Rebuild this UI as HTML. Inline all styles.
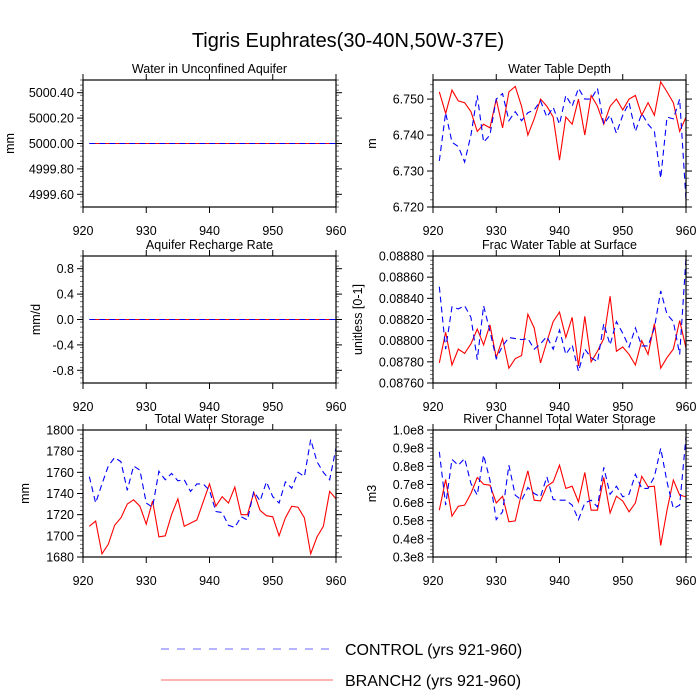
<!DOCTYPE html>
<html><head><meta charset="utf-8"><style>
html,body{margin:0;padding:0;background:#fff;}
svg{display:block;font-family:"Liberation Sans",sans-serif;}
</style></head><body>
<svg id="c" width="700" height="700" xmlns="http://www.w3.org/2000/svg">
<text x="348" y="47" text-anchor="middle" font-size="20">Tigris Euphrates(30-40N,50W-37E)</text>
<g>
<line x1="161" y1="649" x2="333" y2="649" stroke="#6a6aff" stroke-width="1" stroke-dasharray="8,8"/>
<text x="345" y="655" font-size="16">CONTROL (yrs 921-960)</text>
<line x1="161" y1="680" x2="333" y2="680" stroke="#ff6a6a" stroke-width="1"/>
<text x="345" y="686" font-size="16">BRANCH2 (yrs 921-960)</text>
</g>
</svg>
<script>
const years = [];
for (let y = 921; y <= 960; y++) years.push(y);
const xTicks = [920,930,940,950,960];

const aquiferCtrl = [5000,5000,5000,5000,5000,5000,5000,5000,5000,5000,5000,5000,5000,5000,5000,5000,5000,5000,5000,5000,5000,5000,5000,5000,5000,5000,5000,5000,5000,5000,5000,5000,5000,5000,5000,5000,5000,5000,5000,5000];
const aquiferBr = [5000,5000,5000,5000,5000,5000,5000,5000,5000,5000,5000,5000,5000,5000,5000,5000,5000,5000,5000,5000,5000,5000,5000,5000,5000,5000,5000,5000,5000,5000,5000,5000,5000,5000,5000,5000,5000,5000,5000,5000];
const rechargeCtrl = [0,0,0,0,0,0,0,0,0,0,0,0,0,0,0,0,0,0,0,0,0,0,0,0,0,0,0,0,0,0,0,0,0,0,0,0,0,0,0,0];
const rechargeBr = [0,0,0,0,0,0,0,0,0,0,0,0,0,0,0,0,0,0,0,0,0,0,0,0,0,0,0,0,0,0,0,0,0,0,0,0,0,0,0,0];
const wtdBr = [6.752,6.746,6.7525,6.7495,6.749,6.7465,6.741,6.743,6.742,6.750,6.742,6.752,6.7535,6.748,6.740,6.7445,6.750,6.748,6.745,6.733,6.745,6.743,6.750,6.740,6.751,6.748,6.743,6.748,6.750,6.747,6.750,6.751,6.7455,6.749,6.7455,6.7548,6.752,6.749,6.741,6.745];
const wtdCtrl = [6.7328,6.7462,6.738,6.7368,6.7325,6.740,6.751,6.738,6.740,6.750,6.7515,6.744,6.7465,6.744,6.7462,6.747,6.7495,6.745,6.7477,6.743,6.751,6.748,6.753,6.750,6.750,6.753,6.743,6.7455,6.7405,6.7455,6.749,6.741,6.746,6.743,6.741,6.728,6.745,6.7445,6.750,6.722];
const fracBr = [0.08779,0.08808,0.08777,0.08792,0.08788,0.08797,0.08811,0.08796,0.08815,0.08784,0.08802,0.08774,0.08783,0.08786,0.08825,0.08812,0.08779,0.08799,0.08818,0.08827,0.08803,0.08822,0.08776,0.08823,0.08780,0.08790,0.08802,0.08842,0.08790,0.08794,0.08787,0.08777,0.08800,0.08787,0.08816,0.08774,0.08784,0.08792,0.08819,0.08793];
const fracCtrl = [0.08851,0.08792,0.08832,0.08830,0.08833,0.08822,0.08782,0.08833,0.08809,0.08783,0.08795,0.08803,0.08802,0.08801,0.08802,0.08792,0.08797,0.08804,0.08792,0.08810,0.08787,0.08796,0.08771,0.08792,0.08784,0.08780,0.08816,0.08796,0.08818,0.08807,0.08794,0.08812,0.08795,0.08795,0.08812,0.08847,0.08825,0.08818,0.08787,0.08878];
const twsBr = [1709,1714,1683,1692,1710,1717,1730,1734,1728,1711,1733,1699,1700,1720,1735,1709,1712,1715,1732,1749,1728,1737,1731,1746,1720,1720,1741,1724,1719,1718,1700,1717,1728,1727,1717,1683,1699,1709,1742,1735];
const twsCtrl = [1756,1731,1749,1766,1774,1770,1743,1766,1762,1731,1727,1761,1753,1759,1752,1753,1742,1749,1749,1743,1723,1722,1710,1708,1718,1715,1742,1733,1751,1737,1731,1751,1745,1760,1756,1791,1770,1760,1753,1783];
const riverBr = [0.558,0.727,0.525,0.580,0.586,0.650,0.738,0.701,0.696,0.598,0.635,0.494,0.499,0.650,0.775,0.613,0.609,0.690,0.714,0.806,0.678,0.690,0.604,0.766,0.558,0.558,0.738,0.543,0.635,0.609,0.549,0.598,0.745,0.687,0.690,0.364,0.558,0.724,0.641,0.632];
const riverCtrl = [0.880,0.586,0.838,0.806,0.843,0.705,0.641,0.862,0.724,0.506,0.549,0.806,0.641,0.613,0.683,0.650,0.632,0.742,0.617,0.613,0.613,0.586,0.506,0.598,0.613,0.576,0.794,0.646,0.690,0.632,0.646,0.756,0.678,0.678,0.742,0.899,0.714,0.567,0.586,0.963];

const aquiferTicks = ["4999.60","4999.80","5000.00","5000.20","5000.40"];
const rechargeTicks = ["-0.8","-0.4","0.0","0.4","0.8"];
const wtdTicks = ["6.720","6.730","6.740","6.750"];
const fracTicks = ["0.08760","0.08780","0.08800","0.08820","0.08840","0.08860","0.08880"];
const twsTicks = ["1680","1700","1720","1740","1760","1780","1800"];
const riverTicks = ["0.3e8","0.4e8","0.5e8","0.6e8","0.7e8","0.8e8","0.9e8","1.0e8"];

const NS = "http://www.w3.org/2000/svg";
const svg = document.getElementById('c');
function mk(tag, attrs, parent) {
  const e = document.createElementNS(NS, tag);
  for (const k in attrs) e.setAttribute(k, attrs[k]);
  parent.appendChild(e);
  return e;
}
const panels = [
  {name:'water-in-unconfined-aquifer', title:'Water in Unconfined Aquifer', x:83, y:80, ymin:4999.5, ymax:5000.5, ticks:aquiferTicks, tickVals:[4999.6,4999.8,5000,5000.2,5000.4], minor:0.04, ytitle:'mm', ytx:10, ctrl:aquiferCtrl, br:aquiferBr},
  {name:'water-table-depth', title:'Water Table Depth', x:433, y:80, ymin:6.720, ymax:6.7553, ticks:wtdTicks, tickVals:[6.72,6.73,6.74,6.75], minor:0.002, ytitle:'m', ytx:372, ctrl:wtdCtrl, br:wtdBr},
  {name:'aquifer-recharge-rate', title:'Aquifer Recharge Rate', x:83, y:256, ymin:-1, ymax:1, ticks:rechargeTicks, tickVals:[-0.8,-0.4,0,0.4,0.8], minor:0.08, ytitle:'mm/d', ytx:36, ctrl:rechargeCtrl, br:rechargeBr},
  {name:'frac-water-table-at-surface', title:'Frac Water Table at Surface', x:433, y:256, ymin:0.0876, ymax:0.0888, ticks:fracTicks, tickVals:[0.0876,0.0878,0.088,0.0882,0.0884,0.0886,0.0888], minor:0.00004, ytitle:'unitless [0-1]', ytx:358, ctrl:fracCtrl, br:fracBr},
  {name:'total-water-storage', title:'Total Water Storage', x:83, y:430, ymin:1680, ymax:1800, ticks:twsTicks, tickVals:[1680,1700,1720,1740,1760,1780,1800], minor:4, ytitle:'mm', ytx:25, ctrl:twsCtrl, br:twsBr},
  {name:'river-channel-total-water-storage', title:'River Channel Total Water Storage', x:433, y:430, ymin:0.3, ymax:1.0, ticks:riverTicks, tickVals:[0.3,0.4,0.5,0.6,0.7,0.8,0.9,1.0], minor:0.02, ytitle:'m3', ytx:372, ctrl:riverCtrl, br:riverBr}
];
const W = 253, H = 127;
panels.forEach(p => {
  const g = mk('g', {}, svg);
  
  
  const sx = v => p.x + (v - 920) / 40 * W;
  const sy = v => p.y + H - (v - p.ymin) / (p.ymax - p.ymin) * H;
  const cid = 'clip-' + p.name;
  const cp = mk('clipPath', {id: cid}, g);
  mk('rect', {x:p.x, y:p.y, width:W, height:H}, cp);
  const t = mk('text', {x:p.x + W/2, y:p.y - 7, 'text-anchor':'middle', 'font-size':12.5}, g);
  t.textContent = p.title;
  
  
  const nMin = Math.round((p.ymax - p.ymin) / p.minor);
  for (let i = 0; i <= nMin + 1; i++) {
    const v = p.ymin + i * p.minor;
    if (v > p.ymax + 1e-12) break;
    const yy = sy(v);
    mk('line', {x1:p.x - 3, x2:p.x, y1:yy, y2:yy, stroke:'#555', 'stroke-width':0.8}, g);
    mk('line', {x1:p.x + W, x2:p.x + W + 3, y1:yy, y2:yy, stroke:'#555', 'stroke-width':0.8}, g);
  }
  p.tickVals.forEach((v, i) => {
    const yy = sy(v);
    mk('line', {x1:p.x - 6, x2:p.x, y1:yy, y2:yy, stroke:'#000', 'stroke-width':1}, g);
    mk('line', {x1:p.x + W, x2:p.x + W + 6, y1:yy, y2:yy, stroke:'#000', 'stroke-width':1}, g);
    const tl = mk('text', {x:p.x - 9, y:yy + 4.5, 'text-anchor':'end', 'font-size':12.5}, g);
    tl.textContent = p.ticks[i];
    
    
  });
  xTicks.forEach(v => {
    const xx = sx(v);
    mk('line', {x1:xx, x2:xx, y1:p.y - 6, y2:p.y, stroke:'#000', 'stroke-width':1}, g);
    mk('line', {x1:xx, x2:xx, y1:p.y + H, y2:p.y + H + 6, stroke:'#000', 'stroke-width':1}, g);
    const tl = mk('text', {x:xx, y:p.y + H + 28, 'text-anchor':'middle', 'font-size':12.5}, g);
    tl.textContent = String(v);
    
    
  });
  const yt = mk('text', {x:p.ytx, y:p.y + H/2, 'text-anchor':'middle', 'font-size':12.5, transform:'rotate(-90 ' + p.ytx + ' ' + (p.y + H/2) + ')', dy:'4'}, g);
  yt.textContent = p.ytitle;
  
  
  const pts = arr => arr.map((v, i) => sx(years[i]).toFixed(2) + ',' + sy(v).toFixed(2)).join(' ');
  const lb = mk('polyline', {points:pts(p.br), fill:'none', stroke:'#ff0000', 'stroke-width':1.1, 'clip-path':'url(#' + cid + ')'}, g);
  
  
  const lc = mk('polyline', {points:pts(p.ctrl), fill:'none', stroke:'#0000ff', 'stroke-width':1.1, 'stroke-dasharray':'6,4', 'clip-path':'url(#' + cid + ')'}, g);
  
  
  const fr = mk('rect', {x:p.x, y:p.y, width:W, height:H, fill:'none', stroke:'#000', 'stroke-width':1.2}, g);
  
  
});
</script>
</body></html>
